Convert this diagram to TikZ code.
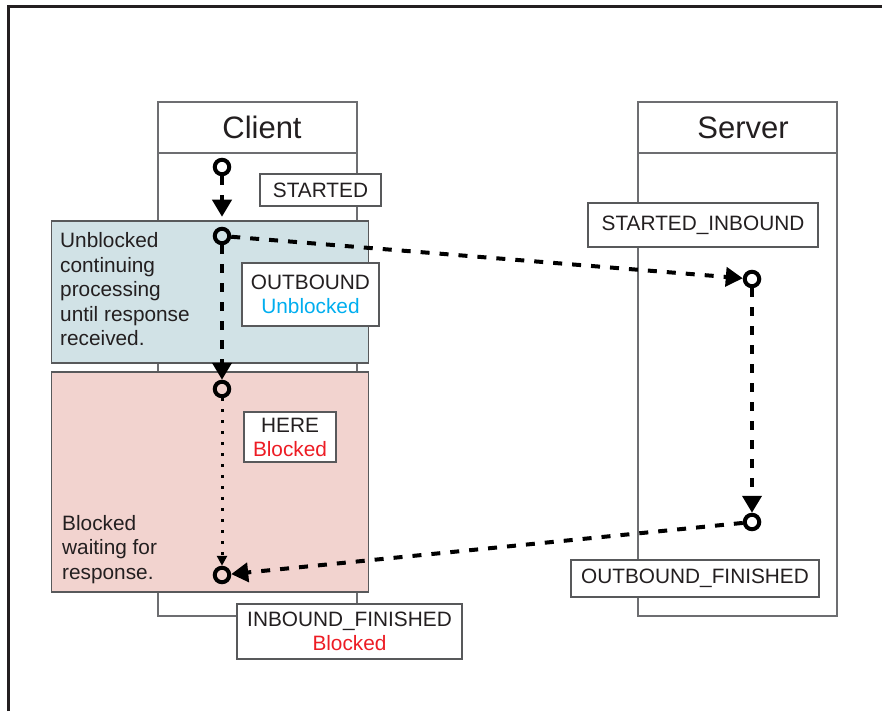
\documentclass[tikz,border=0pt]{standalone}
\usepackage{fontspec}
\setmainfont{Liberation Sans}
\usetikzlibrary{arrows.meta}
\definecolor{framec}{HTML}{231F20}
\definecolor{lifec}{HTML}{6D6E71}
\definecolor{boxc}{HTML}{58595B}
\definecolor{bluefill}{HTML}{D1E2E6}
\definecolor{pinkfill}{HTML}{F2D3CF}
\definecolor{cyantext}{HTML}{00AEEF}
\definecolor{redtext}{HTML}{ED1C24}
\definecolor{inkc}{HTML}{231F20}
\begin{document}
\begin{tikzpicture}[x=1pt,y=-1pt,
  life/.style={draw=lifec, line width=1.4pt, rectangle, inner sep=0, fill=white},
  region/.style={draw=boxc, line width=1.1pt, rectangle, inner sep=0},
  lbl/.style={draw=boxc, line width=1.4pt, fill=white, rectangle, inner sep=0, align=center, text=inkc, font=\fontsize{20.8}{24}\selectfont},
  note/.style={inner sep=0, align=left, text=inkc, anchor=west, font=\fontsize{20.8}{24.5}\selectfont},
  state/.style={circle, draw=black, line width=4pt, minimum size=14.5pt, inner sep=0},
  dashconn/.style={draw=black, line width=4pt, dash pattern=on 9pt off 10pt, -{Triangle[length=17pt,width=19pt]}},
  dotconn/.style={draw=black, line width=3pt, dash pattern=on 3pt off 8pt, -{Triangle[length=10pt,width=10pt]}},
]
\useasboundingbox (0,0) rectangle (882,711);
% frame
\draw[framec, line width=3pt] (8.5,711) -- (8.5,6.5) -- (882,6.5);

% lifelines
\node[life, minimum width=199pt, minimum height=463pt] (clife) at (257.5,384.5) {};
\node[life, minimum width=199pt, minimum height=51pt, font=\fontsize{31}{36}\selectfont, text=inkc] (chead) at (257.5,127.5) {\hspace{9pt}Client};
\node[life, minimum width=199pt, minimum height=463pt] (slife) at (737.5,384.5) {};
\node[life, minimum width=199pt, minimum height=51pt, font=\fontsize{31}{36}\selectfont, text=inkc] (shead) at (737.5,127.5) {\hspace{11pt}Server};

% regions
\node[region, fill=bluefill, minimum width=317pt, minimum height=142pt] (blue) at (210,292) {};
\node[region, fill=pinkfill, minimum width=317pt, minimum height=220pt] (pink) at (210,482) {};
\node[note] (bluetext) at (60,289.5) {Unblocked\\continuing\\processing\\until response\\received.};
\node[note] (pinktext) at (62,549.5) {Blocked\\waiting for\\response.};

% labels
\node[lbl, minimum width=121pt, minimum height=32pt] (lstarted) at (320.5,190) {STARTED};
\node[lbl, minimum width=137pt, minimum height=63pt] (loutbound) at (310.5,294.5) {OUTBOUND\\\textcolor{cyantext}{Unblocked}};
\node[lbl, minimum width=92pt, minimum height=50pt] (lhere) at (290,437) {HERE\\\textcolor{redtext}{Blocked}};
\node[lbl, minimum width=225pt, minimum height=55pt] (linbound) at (349.5,631.5) {INBOUND\_FINISHED\\\textcolor{redtext}{Blocked}};
\node[lbl, minimum width=230pt, minimum height=44pt] (lsin) at (703,225) {STARTED\_INBOUND};
\node[lbl, minimum width=248pt, minimum height=37pt] (lofin) at (695,578.5) {OUTBOUND\_FINISHED};

% states
\node[state] (c1) at (222,167) {};
\node[state] (c2) at (222,236) {};
\node[state] (c3) at (222,389) {};
\node[state] (c4) at (222,575) {};
\node[state] (s1) at (752,279) {};
\node[state] (s2) at (752,522) {};

% connectors
\draw[dashconn, shorten >=10pt] (c1) -- (c2);
\draw[dashconn] (c2) -- (s1);
\draw[dashconn] (c2) -- (c3);
\draw[dotconn] (c3) -- (c4);
\draw[dashconn] (s1) -- (s2);
\draw[dashconn] (s2) -- (c4);
\end{tikzpicture}
\end{document}
